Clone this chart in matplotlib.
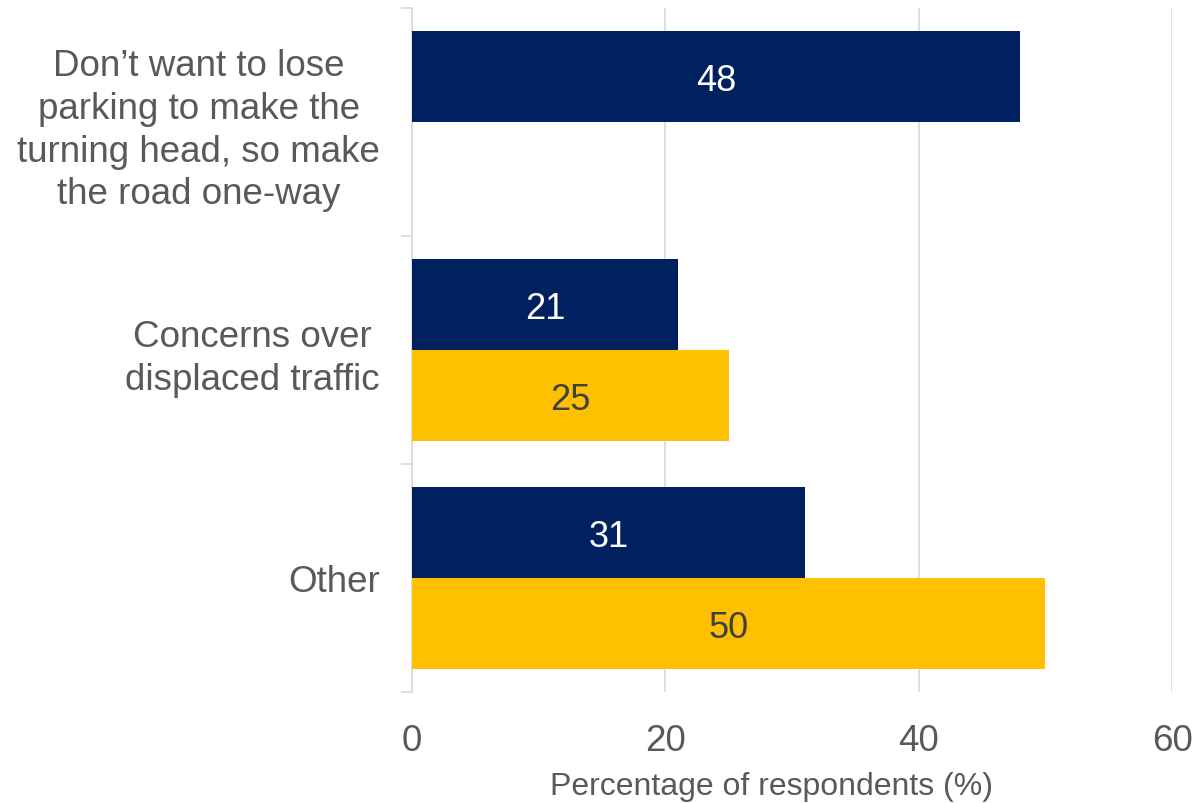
import numpy as np
import matplotlib.pyplot as plt
from matplotlib.ticker import FixedLocator

plt.rcParams['font.family'] = ['Liberation Sans', 'DejaVu Sans']

categories = [
    "Don\u2019t want to lose\nparking to make the\nturning head, so make\nthe road one-way",
    "Concerns over\ndisplaced traffic",
    "Other",
]
navy_values = [48, 21, 31]
gold_values = [None, 25, 50]
x_ticks = [0, 20, 40, 60]
x_label = "Percentage of respondents (%)"

NAVY = "#002060"
GOLD = "#FFC000"
TEXT = "#595959"
GRID = "#D9D9D9"

fig = plt.figure(figsize=(11.94, 8.04), dpi=100)
ax = fig.add_axes([412 / 1194, 1 - 693 / 804, (1172 - 412) / 1194, (693 - 9) / 804])

n = len(categories)
y = np.arange(n)
h = 0.4

for i in range(n):
    v = navy_values[i]
    if v is not None:
        ax.barh(y[i] - h / 2, v, height=h, color=NAVY, zorder=3)
        ax.text(v / 2, y[i] - h / 2, f"{v:g}", ha="center", va="center_baseline",
                color="white", fontsize=26, zorder=4)
    g = gold_values[i]
    if g is not None:
        ax.barh(y[i] + h / 2, g, height=h, color=GOLD, zorder=3)
        ax.text(g / 2, y[i] + h / 2, f"{g:g}", ha="center", va="center_baseline",
                color="#404040", fontsize=26, zorder=4)

ax.set_xlim(0, 60)
ax.set_ylim(n - 0.5, -0.5)
ax.set_xticks(x_ticks)
ax.set_xticklabels([str(t) for t in x_ticks], fontsize=26.5, color=TEXT)
ax.tick_params(axis="x", length=0, pad=22)

ax.set_yticks(y)
ax.set_yticklabels(categories, fontsize=26.5, color=TEXT, multialignment="center",
                   linespacing=1.28)
ax.yaxis.set_minor_locator(FixedLocator(np.arange(n + 1) - 0.5))
ax.tick_params(axis="y", which="major", length=0, pad=23)
ax.tick_params(axis="y", which="minor", length=8, width=1.2, color=GRID)

ax.grid(axis="x", color=GRID, linewidth=1.2, zorder=0)
for s in ["top", "right", "bottom"]:
    ax.spines[s].set_visible(False)
ax.spines["left"].set_color(GRID)
ax.spines["left"].set_linewidth(1.2)

fig.text(772 / 1194, 1 - 787 / 804, x_label, ha="center", va="center",
         fontsize=23, color=TEXT)

fig.savefig("out.png", dpi=100, facecolor="white")
